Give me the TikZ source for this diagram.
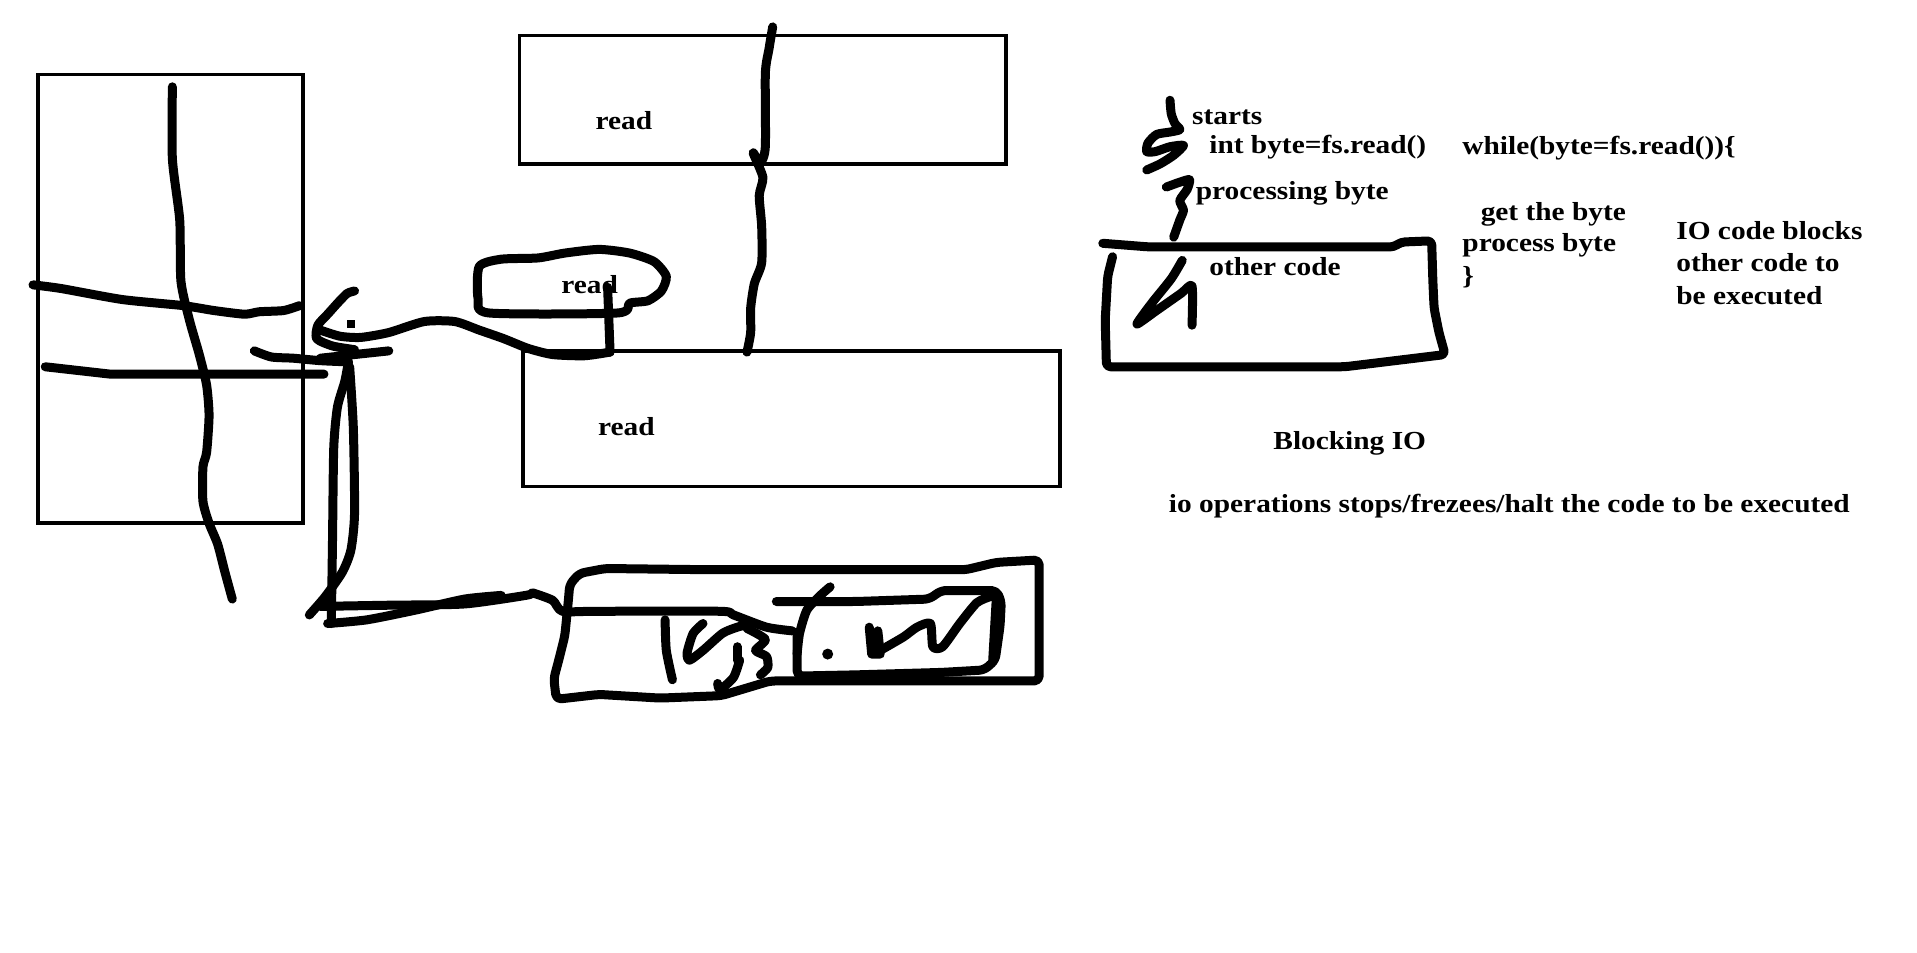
\documentclass[tikz,border=0pt]{standalone}
\usepackage{fontspec}
\setmainfont{Liberation Serif}[FakeStretch=1.13]
\usetikzlibrary{fit}
\begin{document}
\begin{tikzpicture}[x=1.2226pt,y=-1.2226pt,
  box/.style={draw,line width=3.6pt,inner sep=0pt},
  ink/.style={line width=9pt,line cap=round,line join=round},
  lbl/.style={font=\fontsize{26}{31}\selectfont\bfseries,inner sep=0pt,anchor=west},
  ]
\useasboundingbox[fill=white] (0,0) rectangle (1568,779);
% boxes
\node[box,fit={(31,61) (248,428)}] (leftbox) {};
\node[box,fit={(425,29) (823,134)}] (topbox) {};
\node[box,fit={(428,287) (867,398)}] (midbox) {};
\node[lbl] (r1) at (487,99) {read};
\node[lbl] (r3) at (489,349) {read};
\node[lbl] (r2) at (459,233) {read};
% left scribbles
\draw[ink] plot[smooth,tension=0.4] coordinates {(141,71) (141,130) (147,180) (148,230) (155,262) (163,290) (169,315) (171,340) (169,370) (166,382) (166,410) (171,428) (178,445) (184,468) (190,490)};
\draw[ink] plot[smooth,tension=0.4] coordinates {(27,233) (50,236) (100,245) (150,250) (175,254) (200,257) (212,255) (232,254) (245,250)};
\draw[ink] (37,300) -- (90,306) -- (265,306);
\draw[ink] plot[smooth,tension=0.4] coordinates {(208,287) (222,292) (240,293) (262,295) (285,296)};
\draw[ink] (262,293) -- (318,287);
\draw[ink] plot[smooth,tension=0.4] coordinates {(290,238) (284,240) (277,247) (268,257) (260,266) (259,277) (272,283) (290,286)};
\draw[ink] plot[smooth,tension=0.4] coordinates {(262,270) (278,275) (295,276) (318,272) (347,263) (372,263) (392,270) (412,277) (432,285) (452,290) (478,291) (499,288)};
\fill (284,262) rectangle (290,268);
% vertical loop
\draw[ink] plot[smooth,tension=0.4] coordinates {(285,296) (282,312) (276,333) (273,366) (272,440) (271,510)};
\draw[ink] plot[smooth,tension=0.4] coordinates {(286,300) (289,350) (290,420) (287,450) (280,468) (266,488) (253,503)};
\draw[ink] plot[smooth,tension=0.4] coordinates {(262,496) (320,495) (380,494) (430,487) (435,485)};
\draw[ink] plot[smooth,tension=0.4] coordinates {(268,510) (300,507) (340,499) (380,490) (410,487)};
% small read ellipse
\draw[ink] plot[smooth cycle,tension=0.4] coordinates {(392,218) (410,212) (440,211) (462,207) (490,204) (515,207) (535,214) (545,226) (541,238) (530,246) (515,248) (505,256) (400,256) (391,244)};
\draw[ink] (497,235) -- (499,288);
% vertical through top rect
\draw[ink] plot[smooth,tension=0.4] coordinates {(632,22) (629,40) (626,60) (626,120) (622,133) (616,125) (624,145) (621,160) (623,185) (623,215) (617,232) (614,252) (614,272) (611,288)};
% bottom scribbled box
\draw[ink,rounded corners=5pt] (466,478) -- (474,469) -- (495,465) -- (580,466) -- (790,466) -- (815,460) -- (850,458) -- (850,557) -- (650,557) -- (630,557) -- (610,563) -- (590,569) -- (540,571) -- (490,568) -- (455,572) -- (453,555) -- (457,540) -- (462,520) -- (465,490) -- cycle;
\draw[ink,rounded corners=5pt] (635,492) -- (700,492) -- (760,490) -- (770,483) -- (815,483) -- (819,492) -- (818,512) -- (814,540) -- (805,548) -- (770,550) -- (700,552) -- (652,553) -- (652,520);
\draw[ink] plot[smooth,tension=0.4] coordinates {(436,485) (452,491) (460,500) (488,500) (589,500) (600,503) (627,513) (648,516)};
\draw[ink] plot[smooth,tension=0.4] coordinates {(544,507) (545,532) (550,556)};
\draw[ink] plot[smooth,tension=0.4] coordinates {(575,510) (567,518) (562,534) (564,540) (575,532) (591,518) (603,513) (611,511)};
\draw[ink] plot[smooth,tension=0.4] coordinates {(611,514) (626,523) (618,532) (627,537) (628,546) (622,552)};
\draw[ink] (603,529) -- (603,540);
\draw[ink] plot[smooth,tension=0.4] coordinates {(605,540) (600,554) (589,564) (587,559)};
\draw[ink] plot[smooth,tension=0.4] coordinates {(679,480) (671,487) (660,499) (654,518) (652,535)};
\fill (677,535) circle (4.5);
\draw[ink] (711,513) -- (713,535) -- (720,535) -- (718,516);
\draw[ink] plot[smooth,tension=0.4] coordinates {(720,532) (739,521) (750,513) (761,510) (763,529) (771,529) (785,510) (799,493) (810,488)};
\draw[ink] (815,488) -- (812,540);
% right box
\draw[ink,rounded corners=4pt] (902,199) -- (940,202) -- (1140,202) -- (1146,198) -- (1171,197) -- (1172,230) -- (1173,252) -- (1177,272) -- (1182,290) -- (1100,300) -- (1000,300) -- (905,300) -- (904,262) -- (906,226) -- (910,210);
\draw[ink] plot[smooth,tension=0.4] coordinates {(957,82) (958,93) (961,101) (965,106) (957,108) (946,110) (939,117) (938,124) (945,124) (957,120) (968,119) (960,127) (949,134) (938,139)};
\draw[ink] plot[smooth,tension=0.4] coordinates {(954,153) (965,149) (973,147) (971,155) (965,164) (968,172) (965,180) (960,194)};
\draw[ink] plot[smooth,tension=0.4] coordinates {(967,213) (958,228) (942,248) (930,265) (946,254) (966,240) (975,234) (975,266)};
% texts
\node[lbl] (t1) at (975,96) {starts};
\node[lbl] (t2) at (989,120) {int byte=fs.read()};
\node[lbl] (t3) at (978,158) {processing byte};
\node[lbl] (t4) at (989,218) {other code};
\node[lbl] (t5) at (1196,121) {while(byte=fs.read())\char`\{};
\node[lbl] (t6) at (1211,175) {get the byte};
\node[lbl] (t7) at (1196,201) {process byte};
\node[lbl] (t8) at (1196,227) {\char`\}};
\node[lbl] (t9) at (1371,189) {IO code blocks};
\node[lbl] (t10) at (1371,215) {other code to};
\node[lbl] (t11) at (1371,242) {be executed};
\node[lbl,anchor=center] (t12) at (1104,363) {Blocking IO};
\node[lbl] (t13) at (956,414) {io operations stops/frezees/halt the code to be executed};
\end{tikzpicture}
\end{document}
